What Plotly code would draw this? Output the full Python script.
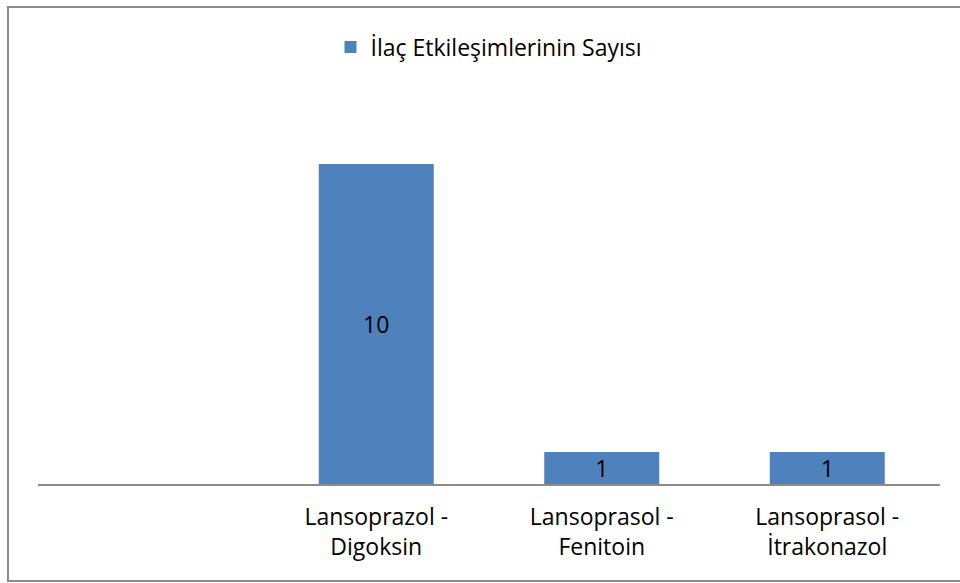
import plotly.graph_objects as go

categories = ["", "Lansoprazol -<br>Digoksin", "Lansoprasol -<br>Fenitoin", "Lansoprasol -<br>İtrakonazol"]
values = [None, 10, 1, 1]
series_name = "İlaç Etkileşimlerinin Sayısı"

W, H = 960, 583
L, R = 38, 940
T, B = 100, 484
FS = 23

x_pos = list(range(len(categories)))
text = ["" if v is None else str(v) for v in values]

fig = go.Figure()
fig.add_trace(go.Bar(
    x=x_pos, y=values, name=series_name,
    marker=dict(color="#4F81BD", line=dict(width=0)),
    text=text, textposition="inside", insidetextanchor="middle", textangle=0,
    textfont=dict(color="black", size=FS, family="Open Sans"),
    constraintext="none",
    showlegend=True,
))

fig.update_layout(
    width=W, height=H,
    margin=dict(l=L, r=W - R, t=T, b=H - B),
    paper_bgcolor="white", plot_bgcolor="white",
    bargap=0.49,
    font=dict(family="Open Sans", size=FS, color="black"),
    xaxis=dict(range=[-0.5, len(categories) - 0.5], tickvals=x_pos, ticktext=categories,
               showline=True, linecolor="#8C8C8C", linewidth=2, showgrid=False,
               zeroline=False, ticks="", tickfont=dict(size=FS, color="black"),
               ticklabelstandoff=11),
    yaxis=dict(range=[0, 12], visible=False, showgrid=False, zeroline=False),
    legend=dict(orientation="h", x=0.5, xanchor="center", y=(B - 47) / (B - T), yanchor="middle",
                font=dict(size=FS, color="black"), itemwidth=30),
    showlegend=True,
    uniformtext=dict(minsize=8, mode="show"),
)

def px_x(px):
    return (px - L) / (R - L)

def px_y(py):
    return (B - py) / (B - T)

fig.add_shape(type="rect", xref="paper", yref="paper",
              x0=px_x(8), x1=px_x(1000), y0=px_y(581), y1=px_y(7),
              line=dict(color="#8C8C8C", width=2), fillcolor="rgba(0,0,0,0)", layer="below")

fig.write_html("out.html", config={"displayModeBar": False},
               post_script="document.body.style.margin='0';document.body.style.overflow='hidden';")
